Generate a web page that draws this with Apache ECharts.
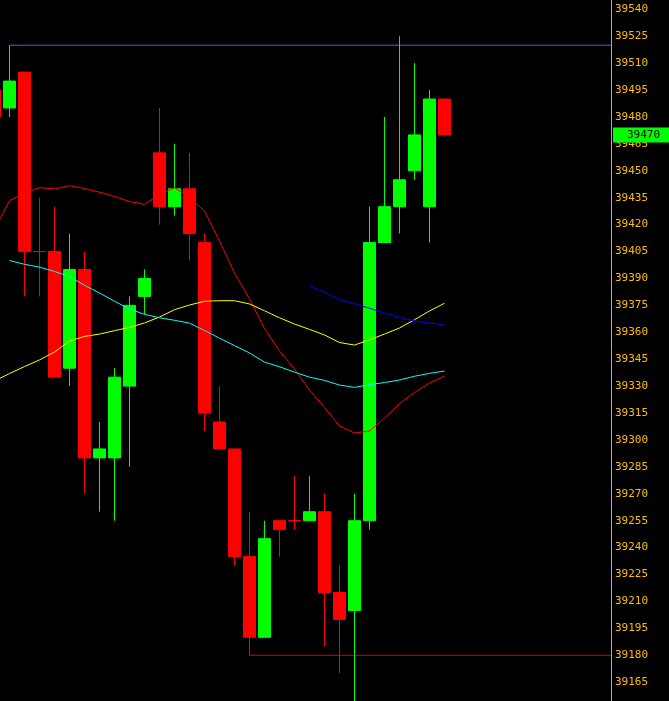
<!DOCTYPE html>
<html>
<head>
<meta charset="utf-8">
<script src="https://cdn.jsdelivr.net/npm/echarts@6/dist/echarts.min.js"></script>
<style>
  html, body { margin: 0; padding: 0; background: #000; }
  #chart { width: 669px; height: 701px; }
</style>
</head>
<body>
<div id="chart"></div>
<script>
// Bar index of each candle (the first one is cut by the left edge)
const barIndex = [-1, 0, 1, 2, 3, 4, 5, 6, 7, 8, 9, 10, 11, 12, 13, 14, 15,
                  16, 17, 18, 19, 20, 21, 22, 23, 24, 25, 26, 27, 28, 29];

// OHLC prices
const opens  = [39495, 39485, 39505, 39405, 39405, 39340, 39395, 39290, 39290, 39330,
                39380, 39460, 39430, 39440, 39410, 39310, 39295, 39235, 39190, 39255,
                39255, 39255, 39260, 39215, 39205, 39255, 39410, 39430, 39450, 39430, 39490];
const closes = [39480, 39500, 39405, 39405, 39335, 39395, 39290, 39295, 39335, 39375,
                39390, 39430, 39440, 39415, 39315, 39295, 39235, 39190, 39245, 39250,
                39255, 39260, 39215, 39200, 39255, 39410, 39430, 39445, 39470, 39490, 39470];
const lows   = [39480, 39480, 39380, 39380, 39335, 39330, 39270, 39260, 39255, 39285,
                39370, 39420, 39425, 39400, 39305, 39295, 39230, 39180, 39190, 39235,
                39250, 39255, 39185, 39170, 39150, 39250, 39410, 39415, 39445, 39410, 39470];
const highs  = [39495, 39520, 39505, 39435, 39430, 39415, 39405, 39310, 39340, 39380,
                39395, 39485, 39465, 39460, 39415, 39330, 39295, 39260, 39255, 39255,
                39280, 39280, 39270, 39230, 39270, 39430, 39480, 39525, 39510, 39495, 39490];

// Moving averages
const maRed    = [39417.4, 39433.4, 39437.6, 39440.6, 39439.9, 39441.7, 39440.1, 39438.1, 39435.7, 39432.9,
                  39431.3, 39436.8, 39440.6, 39435.1, 39427.6, 39410.9, 39393.0, 39378.6, 39362.1, 39349.6,
                  39339.5, 39327.8, 39318.1, 39307.8, 39303.9, 39305.0, 39312.2, 39320.3, 39326.4, 39331.7, 39335.6];
const maYellow = [39332.9, 39337.0, 39340.9, 39344.6, 39349.0, 39355.1, 39357.7, 39359.0, 39360.9, 39362.7,
                  39365.2, 39368.5, 39372.6, 39375.2, 39377.3, 39377.6, 39377.6, 39375.8, 39372.0, 39368.1,
                  39364.6, 39361.6, 39358.5, 39354.3, 39352.9, 39355.8, 39359.0, 39362.4, 39367.0, 39371.9, 39376.2];
const maCyan   = [null, 39400.0, 39397.9, 39396.3, 39393.9, 39391.1, 39386.2, 39381.9, 39377.3, 39373.0,
                  39370.0, 39368.1, 39366.7, 39365.1, 39361.0, 39356.7, 39352.6, 39348.5, 39343.4, 39340.8,
                  39337.8, 39335.0, 39333.2, 39330.6, 39329.3, 39330.8, 39332.0, 39333.4, 39335.5, 39337.1, 39338.4];
const maBlue   = [null, null, null, null, null, null, null, null, null, null,
                  null, null, null, null, null, null, null, null, null, null,
                  null, 39385.8, 39382.3, 39378.3, 39375.9, 39373.4, 39370.7, 39368.3, 39366.3, 39365.2, 39364.1];

// Price axis ticks
const priceMin = 39150;
const priceMax = 39555;
const priceStep = 15;

// Marked high / low levels and the bar each one starts from
const highLevel = 39520, highFromBar = 0;
const lowLevel = 39180, lowFromBar = 16;

// Last traded price
const lastPrice = 39470;

// Horizontal bar axis extent (15 px per bar, 611 px plot)
const xMin = -0.6333;
const xMax = 40.1;

const candleData = barIndex.map((k, i) => [k, opens[i], closes[i], lows[i], highs[i]]);
const pairs = arr => barIndex.map((k, i) => [k, arr[i]]);

const mono = 'DejaVu Sans Mono';

const lineSeries = (name, arr, color) => ({
  name, type: 'line', data: pairs(arr), symbol: 'none', showSymbol: false,
  lineStyle: { color, width: 1 }, z: 3, silent: true, connectNulls: false
});

const levelSeries = (name, level, from, color) => ({
  name, type: 'line', data: [[from, level], [xMax, level]], symbol: 'none',
  lineStyle: { color, width: 1 }, z: 1, silent: true
});

const chart = echarts.init(document.getElementById('chart'));
chart.setOption({
  animation: false,
  backgroundColor: '#000000',
  grid: { left: 0, right: 58, top: -17.6, bottom: -8.1, outerBoundsMode: 'none', containLabel: false },
  xAxis: {
    type: 'value', min: xMin, max: xMax, show: false,
    splitLine: { show: false }
  },
  yAxis: {
    type: 'value', position: 'right', min: priceMin, max: priceMax, interval: priceStep,
    axisLine: { show: true, onZero: false, lineStyle: { color: '#A8A8A8', width: 1 } },
    axisTick: { show: false },
    splitLine: { show: false },
    axisLabel: {
      color: '#FFBE00', fontFamily: mono, fontSize: 11, margin: 4,
      formatter: v => String(v)
    }
  },
  series: [
    levelSeries('high', highLevel, highFromBar, '#4169E1'),
    levelSeries('low', lowLevel, lowFromBar, '#E00000'),
    {
      name: 'price', type: 'candlestick', data: candleData, barWidth: 12, z: 2,
      itemStyle: {
        color: '#00FF00', color0: '#FF0000',
        borderColor: '#00FF00', borderColor0: '#FF0000', borderColorDoji: '#FF0000',
        borderWidth: 1
      },
      markLine: {
        silent: true, symbol: 'none', animation: false,
        lineStyle: { color: 'rgba(0,0,0,0)', width: 0 },
        data: [{ yAxis: lastPrice }],
        label: {
          show: true, position: 'end', distance: 2,
          formatter: String(lastPrice),
          backgroundColor: '#00FF00', color: '#000000',
          fontFamily: mono, fontSize: 11, lineHeight: 13,
          padding: [1, 9, 1, 14]
        }
      }
    },
    lineSeries('MA red', maRed, '#FF0000'),
    lineSeries('MA yellow', maYellow, '#FFFF00'),
    lineSeries('MA cyan', maCyan, '#00FFFF'),
    lineSeries('MA blue', maBlue, '#0000FF')
  ]
});
</script>
</body>
</html>
